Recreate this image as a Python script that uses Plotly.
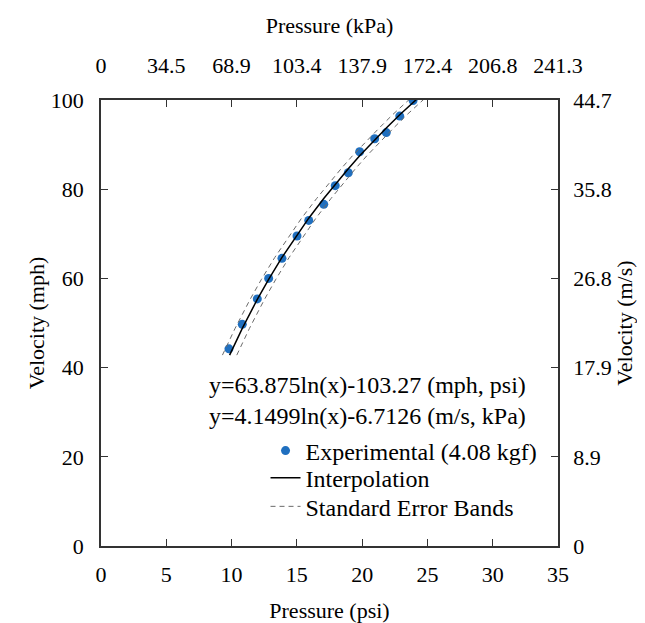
import plotly.graph_objects as go

# Experimental points
psi_exp = [9.80, 10.82, 11.97, 12.84, 13.86, 15.01, 15.91, 17.06, 17.94, 18.94, 19.81, 20.96, 21.85, 22.88, 23.90]
mph_exp = [44.2, 49.7, 55.4, 60.0, 64.5, 69.5, 73.0, 76.6, 80.8, 83.7, 88.4, 91.3, 92.7, 96.4, 99.9]

# Interpolation line
psi_fit = [9.85, 10.82, 11.97, 12.84, 13.86, 15.01, 15.91, 17.06, 17.94, 18.94, 19.81, 20.96, 21.85, 22.88, 24.30]
mph_fit = [42.8, 48.8, 55.3, 59.8, 64.7, 69.7, 73.5, 77.9, 81.1, 84.6, 87.5, 91.1, 93.7, 96.7, 100.5]

# Standard error bands
band_up_psi = [9.30, 10.27, 11.42, 12.29, 13.31, 14.46, 15.36, 16.51, 17.39, 18.39, 19.26, 20.41, 21.30, 22.33, 23.75]
band_lo_psi = [10.40, 11.37, 12.52, 13.39, 14.41, 15.56, 16.46, 17.61, 18.49, 19.49, 20.36, 21.51, 22.40, 23.43, 24.85]
band_mph = [42.8, 48.8, 55.3, 59.8, 64.7, 69.7, 73.5, 77.9, 81.1, 84.6, 87.5, 91.1, 93.7, 96.7, 100.5]

# Axis ticks
psi_ticks = [0, 5, 10, 15, 20, 25, 30, 35]
kpa_labels = ["0", "34.5", "68.9", "103.4", "137.9", "172.4", "206.8", "241.3"]
mph_ticks = [0, 20, 40, 60, 80, 100]
ms_labels = ["0", "8.9", "17.9", "26.8", "35.8", "44.7"]

FONT = "Liberation Serif"
TICK = 22
TXT = 24

fig = go.Figure()
fig.add_trace(go.Scatter(x=psi_exp, y=mph_exp, mode="markers", name="Experimental (4.08 kgf)",
                         marker=dict(color="#1f6fbf", size=9), legend="legend"))
fig.add_trace(go.Scatter(x=psi_fit, y=mph_fit, mode="lines", name="Interpolation",
                         line=dict(color="black", width=1.5), legend="legend2"))
fig.add_trace(go.Scatter(x=band_up_psi, y=band_mph, mode="lines", name="Standard Error Bands",
                         line=dict(color="#6a6a6a", width=1, dash="5px,4px"), legendgroup="band",
                         legend="legend3"))
fig.add_trace(go.Scatter(x=band_lo_psi, y=band_mph, mode="lines", name="Standard Error Bands",
                         line=dict(color="#6a6a6a", width=1, dash="5px,4px"), legendgroup="band",
                         showlegend=False, legend="legend3"))
# invisible trace to attach secondary axes
fig.add_trace(go.Scatter(x=[0], y=[0], xaxis="x2", yaxis="y2", mode="markers",
                         marker=dict(opacity=0), showlegend=False, hoverinfo="skip"))

def axis(**kw):
    d = dict(showgrid=False, zeroline=False, showline=True, linecolor="#333",
             linewidth=1.5, ticks="inside", ticklen=7, tickcolor="#333", tickangle=0,
             tickfont=dict(family=FONT, size=TICK, color="black"))
    d.update(kw)
    return d

def title(t, standoff):
    return dict(text=t, font=dict(family=FONT, size=TICK, color="black"), standoff=standoff)

def legend(y):
    return dict(x=0.36, y=y, xanchor="left", yanchor="middle", bgcolor="rgba(0,0,0,0)",
                font=dict(family=FONT, size=TXT, color="black"))

fig.update_layout(
    width=645, height=623,
    margin=dict(l=93, r=95, t=92, b=76),
    paper_bgcolor="white", plot_bgcolor="white",
    font=dict(family=FONT, size=TICK, color="black"),
    xaxis=axis(range=[0, 35], tickvals=psi_ticks, ticklabelstandoff=8,
               title=title("Pressure (psi)", 16)),
    xaxis2=axis(range=[0, 35], tickvals=psi_ticks, ticktext=kpa_labels, overlaying="x", side="top",
                ticklabelstandoff=16, title=title("Pressure (kPa)", 14)),
    yaxis=axis(range=[0, 100], tickvals=mph_ticks, ticklabelstandoff=11,
               title=title("Velocity (mph)", 0)),
    yaxis2=axis(range=[0, 100], tickvals=mph_ticks, ticktext=ms_labels, overlaying="y", side="right",
                ticklabelstandoff=9, title=title("Velocity (m/s)", 0)),
    legend=legend(0.213),
    legend2=legend(0.152),
    legend3=legend(0.088),
    annotations=[dict(text="y=63.875ln(x)-103.27 (mph, psi)<br>y=4.1499ln(x)-6.7126 (m/s, kPa)",
                      x=0.232, y=0.326, xref="paper", yref="paper", xanchor="left", yanchor="middle",
                      align="left", showarrow=False, font=dict(family=FONT, size=TXT, color="black"))],
)

fig.write_html("out.html")
